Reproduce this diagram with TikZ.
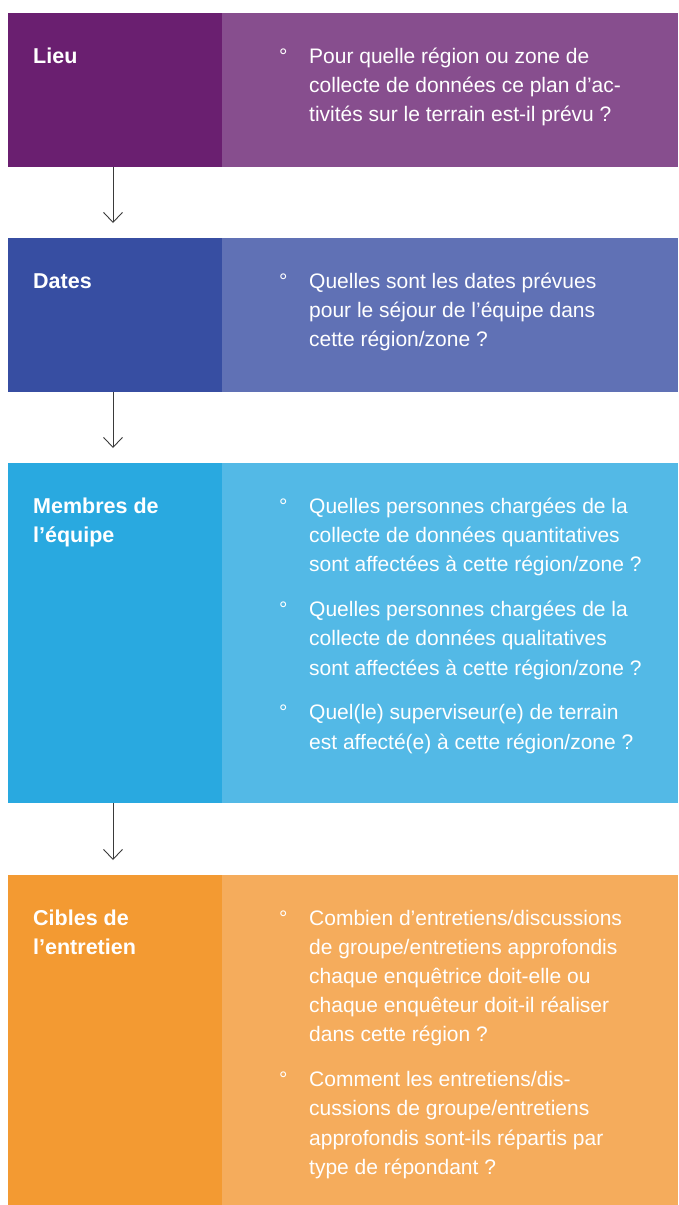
\documentclass[tikz,border=0pt]{standalone}
\usepackage{fontspec}
\setmainfont{Liberation Sans}
\usetikzlibrary{arrows.meta}
\definecolor{pD}{HTML}{6A1F70}\definecolor{pL}{HTML}{874E8E}
\definecolor{bD}{HTML}{374EA2}\definecolor{bL}{HTML}{6071B5}
\definecolor{cD}{HTML}{29A9E0}\definecolor{cL}{HTML}{53B9E6}
\definecolor{oD}{HTML}{F39A32}\definecolor{oL}{HTML}{F5AC5C}
\definecolor{arr}{HTML}{3A3A3A}
\newcommand\stk[1]{\vtop{\baselineskip=29.2pt\lineskip=0pt\lineskiplimit=-20pt\halign{##\hfil\cr#1\crcr}}}
\begin{document}
\begin{tikzpicture}[x=1pt,y=-1pt,
  box/.style={draw=none,inner sep=0pt,outer sep=0pt,anchor=north west},
  lbox/.style={box,minimum width=214pt},
  rbox/.style={box,minimum width=456pt},
  ttl/.style={anchor=base west,inner sep=0pt,text=white,font=\bfseries\fontsize{21.5}{29.2}\selectfont},
  txt/.style={anchor=base west,inner sep=0pt,text=white,font=\fontsize{21}{29.2}\selectfont},
  bul/.style={anchor=base west,inner sep=0pt,text=white,font=\fontsize{21}{29.2}\selectfont},
  arrowline/.style={draw=arr,line width=0.9pt,-{Straight Barb[length=10pt,width=19pt,line width=0.9pt]},shorten >=15pt}]
\useasboundingbox (0,0) rectangle (678,1205);
\fill[white] (0,0) rectangle (678,1205);
% boxes
\node[lbox,fill=pD,minimum height=154pt] (l1) at (8,13) {};
\node[rbox,fill=pL,minimum height=154pt] (r1) at (222,13) {};
\node[lbox,fill=bD,minimum height=154pt] (l2) at (8,238) {};
\node[rbox,fill=bL,minimum height=154pt] (r2) at (222,238) {};
\node[lbox,fill=cD,minimum height=340pt] (l3) at (8,463) {};
\node[rbox,fill=cL,minimum height=340pt] (r3) at (222,463) {};
\node[lbox,fill=oD,minimum height=330pt] (l4) at (8,875) {};
\node[rbox,fill=oL,minimum height=330pt] (r4) at (222,875) {};
% arrows
\draw[arrowline] ([xshift=-2pt]l1.south) -- ([xshift=-2pt]l2.north);
\draw[arrowline] ([xshift=-2pt]l2.south) -- ([xshift=-2pt]l3.north);
\draw[arrowline] ([xshift=-2pt]l3.south) -- ([xshift=-2pt]l4.north);
% titles
\node[ttl] (t1) at (33,63.3) {Lieu};
\node[ttl] (t2) at (33,288) {Dates};
\node[ttl] (t3) at (33,513.3) {\stk{Membres de\cr l’équipe}};
\node[ttl] (t4) at (33,925) {\stk{Cibles de\cr l’entretien}};
% texts
\node[bul] (b1) at (279,63.3) {°};
\node[txt] (q1) at (309,63.3) {\stk{Pour quelle région ou zone de\cr collecte de données ce plan d’ac-\cr tivités sur le terrain est-il prévu ?}};
\node[bul] (b2) at (279,288) {°};
\node[txt] (q2) at (309,288) {\stk{Quelles sont les dates prévues\cr pour le séjour de l’équipe dans\cr cette région/zone ?}};
\node[bul] (b3a) at (279,513.3) {°};
\node[txt] (q3a) at (309,513.3) {\stk{Quelles personnes chargées de la\cr collecte de données quantitatives\cr sont affectées à cette région/zone ?}};
\node[bul] (b3b) at (279,616.7) {°};
\node[txt] (q3b) at (309,616.7) {\stk{Quelles personnes chargées de la\cr collecte de données qualitatives\cr sont affectées à cette région/zone ?}};
\node[bul] (b3c) at (279,719.8) {°};
\node[txt] (q3c) at (309,719.8) {\stk{Quel(le) superviseur(e) de terrain\cr est affecté(e) à cette région/zone ?}};
\node[bul] (b4a) at (279,925) {°};
\node[txt] (q4a) at (309,925) {\stk{Combien d’entretiens/discussions\cr de groupe/entretiens approfondis\cr chaque enquêtrice doit-elle ou\cr chaque enquêteur doit-il réaliser\cr dans cette région ?}};
\node[bul] (b4b) at (279,1086.7) {°};
\node[txt] (q4b) at (309,1086.7) {\stk{Comment les entretiens/dis-\cr cussions de groupe/entretiens\cr approfondis sont-ils répartis par\cr type de répondant ?}};
\end{tikzpicture}
\end{document}
